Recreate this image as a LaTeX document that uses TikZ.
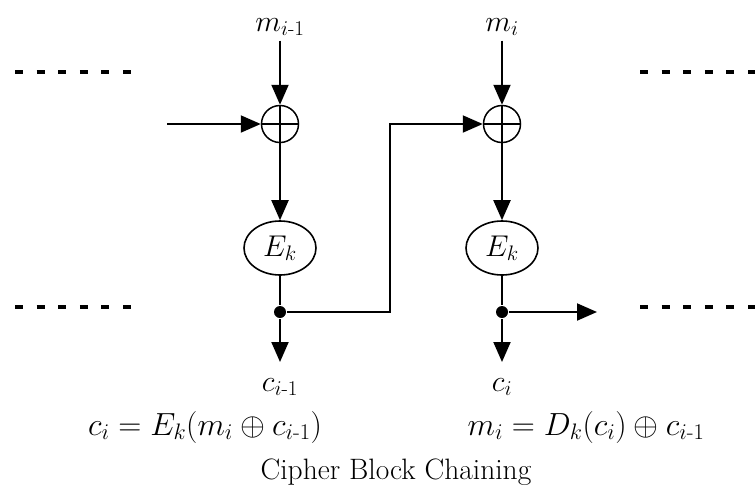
\RequirePackage{fix-cm}
\documentclass[tikz,border=0pt]{standalone}
\usepackage{amsmath}
\usetikzlibrary{arrows.meta,shapes.geometric}
\begin{document}
\begin{tikzpicture}[x=1pt,y=-1pt,line width=2pt,
    flow/.style={-{Triangle[length=20pt,width=17pt]}},
    xorgate/.style={circle,draw,line width=1.5pt,minimum size=37pt,inner sep=0pt,
      path picture={\draw[line width=1.5pt]
        (path picture bounding box.north) -- (path picture bounding box.south)
        (path picture bounding box.west) -- (path picture bounding box.east);}},
    cipher/.style={ellipse,draw,line width=1.6pt,minimum width=72pt,
      minimum height=54pt,inner sep=0pt,font=\fontsize{30}{34}\selectfont},
    junction/.style={circle,fill,inner sep=0pt,minimum size=12pt},
    lbl/.style={font=\fontsize{30}{34}\selectfont,inner sep=0pt},
    formula/.style={font=\fontsize{32}{36}\selectfont,inner sep=0pt},
    dots/.style={line width=4.5pt,dash pattern=on 8pt off 13.6pt}]
  \useasboundingbox (0,0) rectangle (755,488);
  % inputs and the two rounds
  \node[lbl] (mA) at (280,27) {$m_{i\text{-}1}$};
  \node[lbl] (mB) at (502,27) {$m_i$};
  \node[xorgate] (xorA) at (280,124) {};
  \node[xorgate] (xorB) at (502,124) {};
  \node[cipher] (encA) at (280,248) {$E_k$};
  \node[cipher] (encB) at (502,248) {$E_k$};
  \node[junction] (dotA) at (280,312) {};
  \node[junction] (dotB) at (502,312) {};
  \node[lbl] (cA) at (280,387) {$c_{i\text{-}1}$};
  \node[lbl] (cB) at (502,387) {$c_i$};
  \coordinate (inA) at (167,124);
  \coordinate (turn) at (390,124);
  \coordinate (outB) at (597,312);
  \coordinate (tipA) at (280,362);
  \coordinate (tipB) at (502,362);
  % connectors
  \draw[flow,shorten <=4pt] (mA) -- (xorA);
  \draw[flow,shorten <=4pt] (mB) -- (xorB);
  \draw[flow] (inA) -- (xorA);
  \draw[flow] (xorA) -- (encA);
  \draw[flow] (xorB) -- (encB);
  \draw (encA) -- (dotA);
  \draw (encB) -- (dotB);
  \draw[flow] (dotA) -- (tipA);
  \draw[flow] (dotB) -- (tipB);
  \draw[flow] (dotA) -| (turn) -- (xorB);
  \draw[flow] (dotB) -- (outB);
  % chain continues on both sides
  \draw[dots] (15,72) -- (135,72);
  \draw[dots] (15,307) -- (135,307);
  \draw[dots] (640,72) -- (755,72);
  \draw[dots] (640,307) -- (755,307);
  \node[formula] (encrypt) at (205,427) {$c_i = E_k(m_i \oplus c_{i\text{-}1})$};
  \node[formula] (decrypt) at (586,427) {$m_i = D_k(c_i) \oplus c_{i\text{-}1}$};
  \node[font=\fontsize{29.5}{33}\selectfont] (title) at (396,472) {Cipher Block Chaining};
\end{tikzpicture}
\end{document}
